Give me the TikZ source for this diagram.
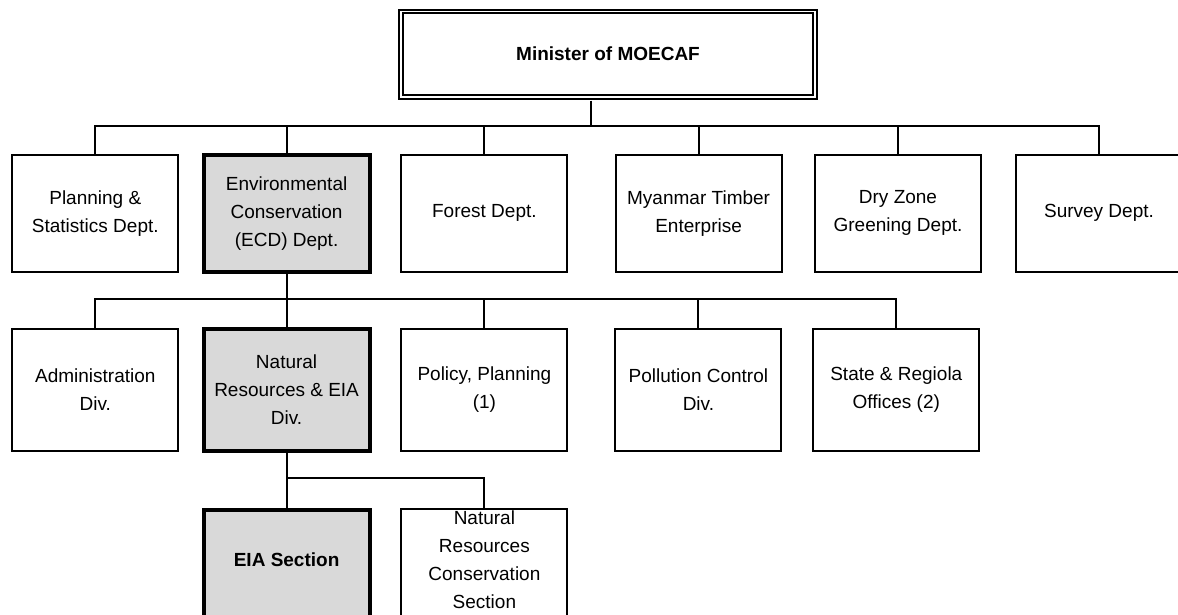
\documentclass[tikz,border=0pt]{standalone}
\usepackage{fontspec}
\setmainfont{Liberation Sans}
\definecolor{boxgray}{RGB}{217,217,217}

\begin{document}
\begin{tikzpicture}[x=0.5pt,y=-0.5pt,
    unitbox/.style={draw,line width=1pt,fill=white,minimum width=83pt,align=center,inner sep=2pt,font=\boxfontsize},
    keybox/.style={unitbox,line width=2pt,fill=boxgray},
    link/.style={line width=1pt}]
    \pgfmathsetmacro{\rowoneheight}{58.25}
    \pgfmathsetmacro{\rowtwoheight}{60.7}
    \pgfmathsetmacro{\rowthreeheight}{70}
    \pgfmathsetmacro{\rowoney}{213.3}
    \pgfmathsetmacro{\rowtwoy}{390}
    \pgfmathsetmacro{\rowthreetop}{508.3}
    \providecommand{\boxfontsize}{\fontsize{9.5}{14}\selectfont}
    \useasboundingbox (0,0) rectangle (1178,615);
    \node[draw,line width=1pt,double,double distance=0.7pt,minimum width=207pt,minimum height=42.85pt,font=\boxfontsize\bfseries] (minister) at (608,54.2) {Minister of MOECAF};
    % departments
    \node[unitbox,minimum height=\rowoneheight pt] (plan) at (95.3,\rowoney) {Planning \&\\Statistics Dept.};
    \node[keybox,minimum height=\rowoneheight pt] (ecd) at (286.6,\rowoney) {Environmental\\Conservation\\(ECD) Dept.};
    \node[unitbox,minimum height=\rowoneheight pt] (forest) at (484.4,\rowoney) {Forest Dept.};
    \node[unitbox,minimum height=\rowoneheight pt] (timber) at (698.6,\rowoney) {Myanmar Timber\\Enterprise};
    \node[unitbox,minimum height=\rowoneheight pt] (dryzone) at (898,\rowoney) {Dry Zone\\Greening Dept.};
    \node[unitbox,minimum height=\rowoneheight pt] (survey) at (1099,\rowoney) {Survey Dept.};
    % divisions
    \node[unitbox,minimum height=\rowtwoheight pt] (admin) at (95.3,\rowtwoy) {Administration\\Div.};
    \node[keybox,minimum height=\rowtwoheight pt] (nreia) at (286.6,\rowtwoy) {Natural\\Resources \& EIA\\Div.};
    \node[unitbox,minimum height=\rowtwoheight pt] (policy) at (484.4,\rowtwoy) {Policy, Planning\\(1)};
    \node[unitbox,minimum height=\rowtwoheight pt] (pollution) at (698.4,\rowtwoy) {Pollution Control\\Div.};
    \node[unitbox,minimum height=\rowtwoheight pt] (state) at (896.3,\rowtwoy) {State \& Regiola\\Offices (2)};
    % sections
    \node[keybox,anchor=north,minimum height=\rowthreeheight pt] (eia) at (286.6,\rowthreetop) {};
    \node[unitbox,anchor=north,minimum height=\rowthreeheight pt] (nrc) at (484.4,\rowthreetop) {};
    \node[font=\boxfontsize\bfseries] (eiatext) at (286.6,560) {EIA Section};
    \node[font=\boxfontsize,align=center] (nrctext) at (484.4,560) {Natural\\Resources\\Conservation\\Section};
    % connectors
    \coordinate (hubtop) at (591,125.7);
    \coordinate (hubmid) at (0,299.3);
    \coordinate (hublow) at (0,478.3);
    \draw[link,shorten <=1.35pt] (minister.south -| hubtop) -- (hubtop);
    \draw[link] (plan.north) -- (plan.north |- hubtop) -- (survey.north |- hubtop) -- (survey.north);
    \foreach \dept in {ecd,forest,timber,dryzone}
        \draw[link] (\dept.north) -- (\dept.north |- hubtop);
    \draw[link] (ecd.south) -- (nreia.north);
    \draw[link] (admin.north) -- (admin.north |- hubmid) -- (state.north |- hubmid) -- (state.north);
    \foreach \branch in {policy,pollution}
        \draw[link] (\branch.north) -- (\branch.north |- hubmid);
    \draw[link] (nreia.south) -- (eia.north);
    \draw[link] (nreia.south |- hublow) -- (nrc.north |- hublow) -- (nrc.north);
\end{tikzpicture}
\end{document}
